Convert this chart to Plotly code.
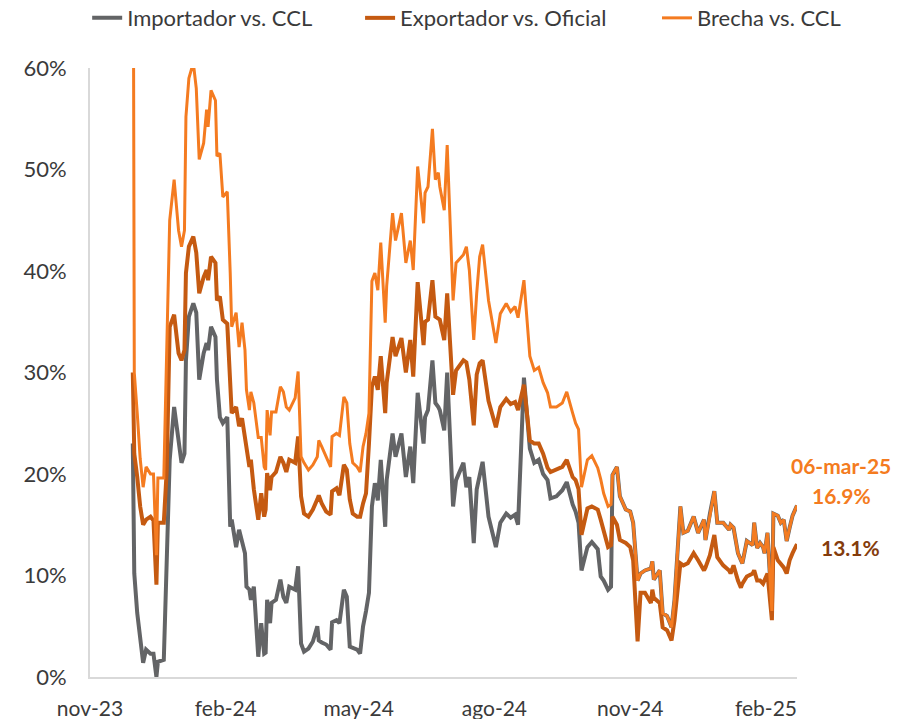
import plotly.graph_objects as go

dates = [
    "2023-12-12", "2023-12-13", "2023-12-15", "2023-12-17", "2023-12-19", "2023-12-21", "2023-12-24", "2023-12-26", "2023-12-28", "2023-12-29",
    "2024-01-02", "2024-01-04", "2024-01-06", "2024-01-09", "2024-01-12", "2024-01-14", "2024-01-16", "2024-01-17", "2024-01-19", "2024-01-22",
    "2024-01-24", "2024-01-26", "2024-01-29", "2024-01-31", "2024-02-01", "2024-02-03", "2024-02-06", "2024-02-07", "2024-02-09", "2024-02-11",
    "2024-02-14", "2024-02-16", "2024-02-17", "2024-02-20", "2024-02-22", "2024-02-24", "2024-02-26", "2024-02-27", "2024-02-29", "2024-03-01",
    "2024-03-03", "2024-03-06", "2024-03-08", "2024-03-10", "2024-03-11", "2024-03-12", "2024-03-14", "2024-03-15", "2024-03-18", "2024-03-21",
    "2024-03-23", "2024-03-25", "2024-03-27", "2024-03-31", "2024-04-02", "2024-04-04", "2024-04-06", "2024-04-09", "2024-04-12", "2024-04-15",
    "2024-04-16", "2024-04-18", "2024-04-21", "2024-04-24", "2024-04-25", "2024-04-28", "2024-04-30", "2024-05-03", "2024-05-05", "2024-05-07",
    "2024-05-09", "2024-05-12", "2024-05-14", "2024-05-16", "2024-05-18", "2024-05-20", "2024-05-22", "2024-05-24", "2024-05-26", "2024-05-28",
    "2024-05-31", "2024-06-01", "2024-06-05", "2024-06-07", "2024-06-11", "2024-06-14", "2024-06-17", "2024-06-19", "2024-06-22", "2024-06-26",
    "2024-06-27", "2024-06-29", "2024-07-02", "2024-07-04", "2024-07-06", "2024-07-07", "2024-07-10", "2024-07-12", "2024-07-16", "2024-07-18",
    "2024-07-23", "2024-07-25", "2024-07-27", "2024-07-30", "2024-08-01", "2024-08-03", "2024-08-05", "2024-08-09", "2024-08-14", "2024-08-17",
    "2024-08-21", "2024-08-24", "2024-08-27", "2024-08-29", "2024-09-02", "2024-09-06", "2024-09-09", "2024-09-12", "2024-09-15", "2024-09-18",
    "2024-09-20", "2024-09-24", "2024-09-28", "2024-10-01", "2024-10-05", "2024-10-07", "2024-10-09", "2024-10-11", "2024-10-15", "2024-10-18",
    "2024-10-22", "2024-10-24", "2024-10-26", "2024-10-29", "2024-10-31", "2024-11-01", "2024-11-04", "2024-11-06", "2024-11-10", "2024-11-13",
    "2024-11-15", "2024-11-18", "2024-11-20", "2024-11-23", "2024-11-27", "2024-11-28", "2024-11-29", "2024-12-03", "2024-12-05", "2024-12-08",
    "2024-12-11", "2024-12-13", "2024-12-17", "2024-12-19", "2024-12-22", "2024-12-26", "2024-12-29", "2025-01-02", "2025-01-03", "2025-01-06",
    "2025-01-09", "2025-01-11", "2025-01-15", "2025-01-19", "2025-01-20", "2025-01-22", "2025-01-25", "2025-01-27", "2025-01-28", "2025-01-31",
    "2025-02-04", "2025-02-05", "2025-02-07", "2025-02-09", "2025-02-11", "2025-02-12", "2025-02-14", "2025-02-17", "2025-02-18", "2025-02-21",
    "2025-02-23", "2025-02-25", "2025-02-27", "2025-03-01", "2025-03-03", "2025-03-06",
]

importador_ccl = [
    23, 10.2, 6.3, 4, 1.4, 2.7, 2.3, 2.3, 0, 1.5,
    1.7, 11.5, 21.4, 26.6, 23, 21.1, 22, 31.2, 35.5, 36.8,
    35.9, 29.3, 31.9, 32.9, 32.2, 34.5, 33.5, 29.3, 25.6, 25,
    25.6, 14.8, 15.5, 12.8, 14.5, 13.5, 12.2, 8.9, 8.6, 7.6,
    8.9, 2, 5.3, 2.3, 2.4, 7.6, 5.3, 7.3, 7.6, 9.6,
    7.9, 7.3, 8.9, 8.6, 10.9, 3.3, 2.5, 2.8, 3.5, 5,
    3.6, 3.4, 3.2, 2.7, 5.4, 5.6, 5.3, 8.6, 7.9, 3,
    2.9, 2.7, 2.3, 5, 6.5, 8.3, 16.8, 19.1, 17.4, 21.4,
    14.8, 19.4, 24, 21.7, 24, 19.7, 22.7, 19.1, 28, 23,
    25.6, 26.3, 31.2, 27, 26.6, 26.3, 24.3, 30, 16.8, 19.4,
    21.1, 18.7, 19.7, 13.2, 18.5, 20.1, 21.2, 15.8, 12.8, 15.2,
    16.1, 15.7, 16, 15, 29.5, 22.5, 21.1, 21.4, 20, 19.4,
    17.6, 17.8, 18.4, 19.2, 17, 16.3, 15.2, 10.5, 12.8, 13.3,
    12.6, 9.9, 9.5, 8.6, 8.9, 19.9, 20.7, 17.8, 16.5, 16.3,
    15.2, 9.5, 10.2, 10.5, 10.7, 11.4, 9.6, 10.5, 6.3, 6,
    4.9, 7.6, 16.8, 14.2, 14.4, 15.8, 14.2, 15.5, 13.5, 16.1,
    18.3, 15.2, 15.2, 14.5, 15, 14.7, 12.2, 11.5, 11.2, 13.4,
    13, 15.2, 12.7, 13.2, 12.8, 12.2, 14.2, 6.5, 16.1, 15.9,
    15.2, 15.5, 13.4, 14.7, 15.9, 16.9,
]

exportador_oficial = [
    30, 22, 19.7, 16.8, 15, 15.5, 15.8, 15.4, 9.1, 15.2,
    15.2, 20.4, 34.5, 35.7, 31.9, 31.2, 32.2, 39.8, 42.4, 43.4,
    41.8, 37.8, 39.4, 40.1, 39.1, 41.4, 40.8, 37.1, 37.5, 35.2,
    34.8, 28.3, 26, 26.6, 24.7, 25.5, 23.5, 22.4, 20.7, 21.4,
    18.5, 15.5, 18.1, 15.8, 16.5, 20.1, 18.4, 19.7, 20.2, 21.7,
    21.1, 20.2, 21.4, 21.1, 23.7, 17.8, 16.1, 15.8, 16.5, 17.5,
    17.9, 17.1, 16.3, 16, 18.3, 18.6, 17.9, 20.9, 20.4, 17.5,
    16.1, 15.8, 15.8, 17.1, 18.1, 23, 28.6, 29.6, 28.3, 31.6,
    26, 29, 33.5, 31.6, 33.4, 30, 33.2, 29.6, 38.9, 32.7,
    35, 35.2, 39.1, 35.5, 35.3, 35.2, 33.2, 37.8, 27.8, 30.2,
    31.2, 31, 29.3, 24.8, 29.8, 30.9, 31.2, 27.2, 24.6, 26.6,
    27.4, 26.9, 27.1, 26.3, 28.8, 23.3, 23, 23, 22, 20.6,
    20.2, 20.4, 20.7, 21.4, 19.7, 19.4, 18.5, 14, 16.6, 16.8,
    16.5, 15.5, 14.3, 12.8, 13, 15.8, 15, 13.5, 13.2, 12.8,
    11.5, 3.5, 8.3, 8.3, 7.3, 8.6, 7.8, 7.3, 4.9, 4.6,
    3.6, 5.6, 11.2, 11, 11.2, 12.2, 11.5, 10.5, 10.8, 12,
    14, 11.8, 11, 10.5, 10.2, 11, 9.5, 8.8, 9.2, 9.9,
    10.2, 10.5, 9.5, 9.5, 9.2, 9.6, 10.2, 5.6, 12.8, 11.5,
    11.2, 10.8, 10.2, 11.5, 12.2, 13.1,
]

brecha_ccl = [
    95, 30, 26, 21.5, 18.7, 20.7, 20, 20, 12, 19.6,
    19.6, 33, 45, 49, 44, 42.4, 44, 55.2, 59, 60.5,
    58, 51, 52.6, 55.9, 54.2, 57.8, 56.8, 51.3, 51.6, 47.3,
    47.8, 39.8, 34.5, 35.9, 32.5, 34.9, 32.2, 28.3, 26.3, 28.1,
    27, 23.6, 23.6, 20.7, 20.4, 26.3, 23.8, 26.1, 26.1, 28.6,
    28.1, 26.6, 26.3, 27.5, 30.1, 21.7, 21.1, 20.4, 20.9, 21.7,
    23.3, 22.7, 21.7, 20.7, 23.7, 24, 23.8, 27.6, 27, 23,
    21.1, 20.7, 20.2, 22.7, 24, 26, 39, 39.8, 38.1, 42.8,
    34.9, 38.5, 45.7, 43, 45.7, 40.8, 43, 40.1, 50.3, 44.7,
    47.7, 48.3, 54, 49, 49.7, 48.3, 46, 52.4, 37.1, 40.8,
    41.6, 42.4, 40.1, 33.2, 37.8, 41.4, 42.6, 37.1, 32.9, 35.8,
    36.8, 36, 36.5, 35.4, 39.1, 31.6, 30.2, 30.5, 29, 28,
    26.6, 26.6, 27, 28.1, 26, 25, 24.4, 18.7, 21.4, 21.8,
    20.6, 19.5, 18.1, 16.8, 17, 19.9, 20.7, 17.8, 16.5, 16.3,
    15.2, 9.5, 10.2, 10.5, 10.7, 11.4, 9.6, 10.5, 6.3, 6,
    4.9, 7.6, 16.8, 14.2, 14.4, 15.8, 14.2, 15.5, 13.5, 16.1,
    18.3, 15.2, 15.2, 14.5, 15, 14.7, 12.2, 11.5, 11.2, 13.4,
    13, 15.2, 12.7, 13.2, 12.8, 12.2, 14.2, 6.5, 16.1, 15.9,
    15.2, 15.5, 13.4, 14.7, 15.9, 16.9,
]

series_names = ["Importador vs. CCL", "Exportador vs. Oficial", "Brecha vs. CCL"]
tick_dates = ["2023-11-13", "2024-02-13", "2024-05-13", "2024-08-13", "2024-11-13", "2025-02-13"]
tick_labels = ["nov-23", "feb-24", "may-24", "ago-24", "nov-24", "feb-25"]
y_ticks = [0, 10, 20, 30, 40, 50, 60]
y_tick_labels = [f"{v}%" for v in y_ticks]
last_date_label = "06-mar-25"

GRAY = "#636466"
DARK_ORANGE = "#C55A11"
LIGHT_ORANGE = "#F47B20"
BROWN = "#843C0C"
FONT = "Lato"
TXT = "#3A3A3A"

fig = go.Figure()
fig.add_trace(go.Scatter(x=dates, y=importador_ccl, name=series_names[0], mode="lines",
                         line=dict(color=GRAY, width=4), legend="legend"))
fig.add_trace(go.Scatter(x=dates, y=exportador_oficial, name=series_names[1], mode="lines",
                         line=dict(color=DARK_ORANGE, width=4), legend="legend2"))
fig.add_trace(go.Scatter(x=dates, y=brecha_ccl, name=series_names[2], mode="lines",
                         line=dict(color=LIGHT_ORANGE, width=3), legend="legend3"))

fig.add_annotation(x=dates[-1], y=brecha_ccl[-1], xref="x", yref="y",
                   text=f"<b>{last_date_label}</b>", showarrow=False,
                   xshift=44, yshift=40, font=dict(family=FONT, size=21, color=LIGHT_ORANGE))
fig.add_annotation(x=dates[-1], y=brecha_ccl[-1], xref="x", yref="y",
                   text=f"<b>{brecha_ccl[-1]:.1f}%</b>", showarrow=False,
                   xshift=44, yshift=10, font=dict(family=FONT, size=21, color=LIGHT_ORANGE))
fig.add_annotation(x=dates[-1], y=exportador_oficial[-1], xref="x", yref="y",
                   text=f"<b>{exportador_oficial[-1]:.1f}%</b>", showarrow=False,
                   xshift=53, yshift=-3, font=dict(family=FONT, size=21, color=BROWN))

leg_common = dict(orientation="h", xanchor="left", y=1.082, yanchor="middle",
                  font=dict(family=FONT, size=22, color=TXT), bgcolor="rgba(0,0,0,0)")

fig.update_layout(
    width=910, height=719,
    margin=dict(l=90, r=113, t=68, b=42, autoexpand=False),
    paper_bgcolor="white", plot_bgcolor="white",
    font=dict(family=FONT, size=20, color=TXT),
    showlegend=True,
    legend=dict(x=-0.004, **leg_common),
    legend2=dict(x=0.382, **leg_common),
    legend3=dict(x=0.802, **leg_common),
    xaxis=dict(type="date", range=["2023-11-13", "2025-03-06"],
               tickvals=tick_dates, ticktext=tick_labels,
               showgrid=False, zeroline=False,
               showline=True, linecolor="#D9D9D9", linewidth=2,
               ticks="outside", ticklen=12, tickcolor="rgba(0,0,0,0)",
               tickfont=dict(family=FONT, size=21, color=TXT)),
    yaxis=dict(range=[0, 60], tickmode="array", tickvals=y_ticks, ticktext=y_tick_labels,
               showgrid=False, zeroline=False,
               showline=True, linecolor="#D9D9D9", linewidth=2,
               ticks="outside", ticklen=17, tickcolor="rgba(0,0,0,0)",
               tickfont=dict(family=FONT, size=22, color=TXT)),
)

fig.write_html("out.html", config={"displayModeBar": False},
               post_script="document.body.style.margin='0';document.body.style.overflow='hidden';")
